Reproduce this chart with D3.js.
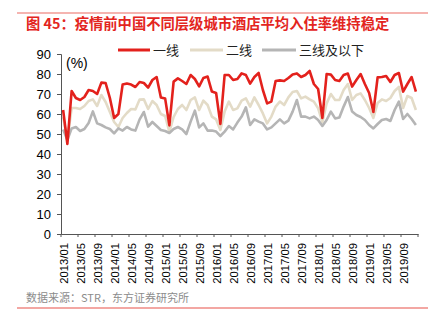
<!DOCTYPE html>
<html><head><meta charset="utf-8">
<script src="https://cdn.jsdelivr.net/npm/d3@7"></script>
<style>body{margin:0;background:#fff}svg{display:block}</style>
</head><body>
<svg id="c" width="436" height="330"></svg>
<script>
const title = "图 45：疫情前中国不同层级城市酒店平均入住率维持稳定";
const source = "数据来源：STR，东方证券研究所";
const seriesNames = ["一线", "二线", "三线及以下"];
const yTicks = [0,10,20,30,40,50,60,70,80,90];
// months 2013/01 .. 2019/12
const months = [];
for (let y = 2013; y <= 2019; y++) for (let m = 1; m <= 12; m++) months.push(y + "/" + String(m).padStart(2, "0"));
const tier1 = [62,45,71.5,68,67,68.5,72,71.5,70,75.7,75.5,68,58,60,74.7,75.2,74.7,73.5,76,75.5,73.2,77,78.5,68.3,67.8,54.3,76.2,77.8,76.5,75,79.5,77.5,73.8,78,78.7,71.2,70.5,55,79.5,79.5,77,77.5,80.3,79.5,75.2,78.5,80.5,72,65.3,66.2,76.5,76.8,76.5,78,79.8,80.3,78.5,79.5,81.5,75,72.5,58,80,79.7,77,76.5,79.5,80.2,73.7,77,80,75,70.5,61,78.3,78.5,79,76,79.5,80.5,71.2,75,78.5,71.2];
const tier2 = [58.5,47,63,63,62.5,64,66.5,67.3,64,69.5,66,61,56,53.5,58,60.5,62.5,62.3,67.2,67.3,62.5,66.5,64.5,60,59,51,58.5,62.5,64.5,62,67,68.3,62,66.7,64.5,58.7,57.3,52,61.2,66.2,62,62.8,66.7,67.8,63.7,68.3,64.5,60.3,55.3,58.7,63.7,66.2,64.5,68.3,71,71.5,67.8,68.7,67.3,66.2,62.8,56,65.3,70,67,67,72,75,67,69.5,70.3,67,63,58,65.5,67.3,66.5,68,71.5,73.5,63,69,68,62];
const tier3 = [52.3,47,52.8,53.5,51.5,52.5,55.5,61.3,55.3,54.5,53.3,52.5,50.3,52.8,51.7,53.5,52.3,51.7,57.3,61,53.7,56,54,52,51.5,50.5,52.5,53.5,52.3,50,56.2,61.7,53.3,55.3,51.7,51.7,51.2,49,51.2,54,52.3,55.7,58.7,63.3,54.5,57.3,56.2,55.3,52.3,53.3,55.3,57.3,55.3,56.7,61.2,67,58.7,58.7,57.8,58.7,57,54,57,61.2,57.8,58.3,63.7,68.5,61.2,59.5,58.5,57,54.5,52.8,55,57,57.5,56.5,62,66.2,57.5,60,57.5,54.5];
const colors = ["#e3211c", "#e3dbc7", "#b5b5b5"];
const data = [tier1, tier2, tier3];

const svg = d3.select("#c");
const font = "'Liberation Sans', Arial, 'Noto Sans CJK SC', sans-serif";
const M = {left: 61, right: 418, top: 54, bottom: 234};

// decorative frame lines
svg.append("line").attr("x1",17).attr("x2",428).attr("y1",13).attr("y2",13).attr("stroke","#ec6a63").attr("stroke-width",1.2);
svg.append("line").attr("x1",17).attr("x2",428).attr("y1",308).attr("y2",308).attr("stroke","#ef8a84").attr("stroke-width",1.5);

svg.append("text").attr("x",26).attr("y",29).attr("fill","#e3251e").attr("font-size",14.3).attr("font-weight","bold")
  .attr("font-family", "'Noto Sans CJK SC', sans-serif").text(title);

const x = d3.scaleBand().domain(months).range([M.left, M.right]).padding(0);
const y = d3.scaleLinear().domain([0, 90]).range([M.bottom, M.top]);

// y axis
const ya = svg.append("g").attr("transform", `translate(${M.left},0)`)
  .call(d3.axisLeft(y).tickValues(yTicks).tickSize(4).tickPadding(6));
ya.selectAll("text").attr("font-size", 13).attr("font-family", font).attr("fill", "#000");
ya.selectAll("path,line").attr("stroke", "#555");

// x axis
const xa = svg.append("g").attr("transform", `translate(0,${M.bottom})`)
  .call(d3.axisBottom(x).tickValues(months.filter((d,i)=>i%4===0)).tickSize(0).tickSizeOuter(0));
xa.selectAll("path").attr("stroke", "#555");
xa.selectAll(".tick text").attr("font-size", 11.3).attr("font-family", font).attr("fill", "#000")
  .attr("text-anchor", "end").attr("transform", "rotate(-90)").attr("dx", "-9px").attr("dy", "0.42em").attr("y", 0).attr("x", 0);
// ticks at boundaries every 4 months
const bnd = months.filter((d,i)=>i%4===0);
svg.append("g").selectAll("line").data(bnd.concat(["end"])).join("line")
  .attr("x1", d => d === "end" ? M.right : x(d)).attr("x2", d => d === "end" ? M.right : x(d))
  .attr("y1", M.bottom).attr("y2", M.bottom + 3).attr("stroke", "#555");

svg.append("text").attr("x",66).attr("y",68).attr("font-size",14).attr("font-family",font).text("(%)");

const line = d3.line().x((d,i)=>x(months[i]) + x.bandwidth()/2).y(d=>y(d));
[1,2,0].forEach(k => {
  svg.append("path").datum(data[k]).attr("d", line).attr("fill","none")
    .attr("stroke", colors[k]).attr("stroke-width", 2.6).attr("stroke-linejoin","round");
});

// legend
const lg = [{x:118, w:32}, {x:190, w:33}, {x:262, w:34}];
seriesNames.forEach((n,k) => {
  svg.append("line").attr("x1", lg[k].x).attr("x2", lg[k].x + lg[k].w).attr("y1", 50).attr("y2", 50)
    .attr("stroke", colors[k]).attr("stroke-width", 3);
  svg.append("text").attr("x", lg[k].x + lg[k].w + 3).attr("y", 55).attr("font-size", 13)
    .attr("font-family", "'Noto Sans CJK SC', sans-serif").attr("fill", "#222").text(n);
});

svg.append("text").attr("x",26).attr("y",302).attr("font-size",11).attr("fill","#8c8c8c")
  .attr("font-family", "'Noto Sans CJK SC', sans-serif").text(source);
</script>
</body></html>
